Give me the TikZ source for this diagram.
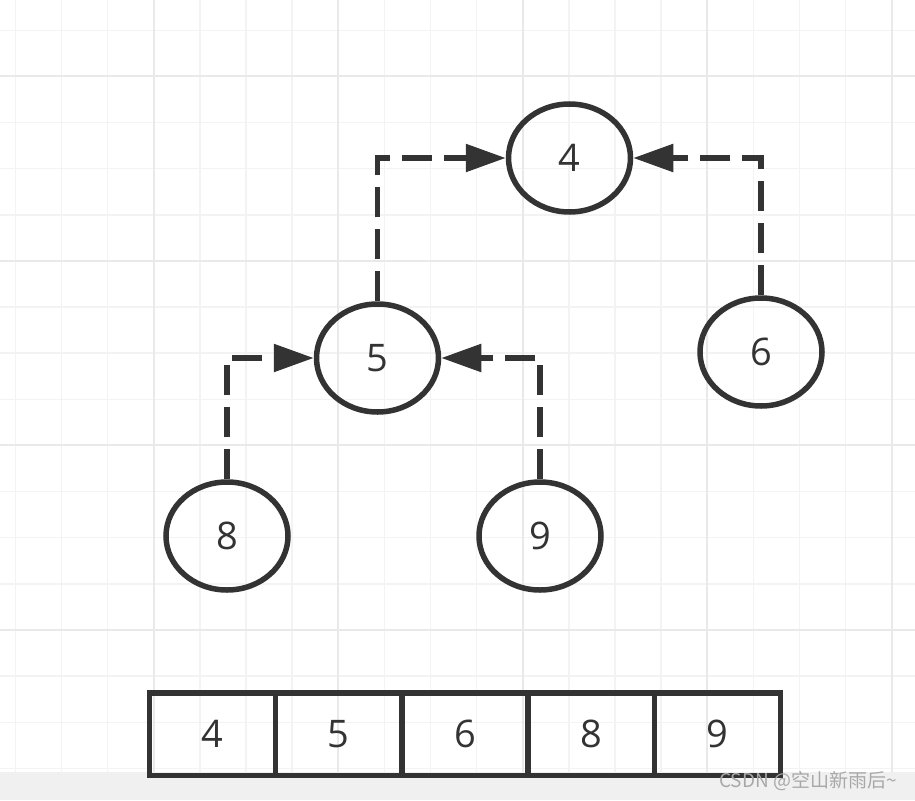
\documentclass[tikz,border=0pt]{standalone}
\usepackage{fontspec}
\setmainfont{Open Sans}
\newfontfamily\cjk{Noto Sans CJK SC}
\usetikzlibrary{shapes.geometric,arrows.meta}
\definecolor{ink}{HTML}{333333}
\definecolor{gridminor}{HTML}{F3F3F3}
\definecolor{gridmajor}{HTML}{E9E9E9}
\definecolor{barc}{HTML}{F0F0F0}
\definecolor{wm}{HTML}{A8A8A8}
\tikzset{
  heapnode/.style={ellipse, draw=ink, line width=5.5pt, minimum width=122pt, minimum height=108pt, inner sep=0pt, text=ink, font=\fontsize{38}{40}\selectfont},
  cellbox/.style={rectangle, draw=ink, line width=5.5pt, minimum width=126.2pt, minimum height=82.5pt, inner sep=0pt, text=ink, font=\fontsize{38}{40}\selectfont},
  link/.style={draw=ink, line width=5.5pt, dash pattern=on 30pt off 12pt, -{Triangle[length=40pt,width=27pt]}},
  gminor/.style={draw=gridminor, line width=1.5pt},
  gmajor/.style={draw=gridmajor, line width=2pt}
}
\begin{document}
\begin{tikzpicture}[x=1pt,y=-1pt]
\useasboundingbox (0,0) rectangle (915,800);
\fill[white] (0,0) rectangle (915,800);
\foreach \i in {0,...,19} {\pgfmathsetmacro\xx{15.3+46.13*\i} \draw[gminor] (\xx,0) -- (\xx,772);}
\foreach \i in {0,...,16} {\pgfmathsetmacro\yy{30.3+46.13*\i} \draw[gminor] (0,\yy) -- (915,\yy);}
\foreach \xx in {153.7,338.2,522.7,707.2,891.7} {\draw[gmajor] (\xx,0) -- (\xx,772);}
\foreach \yy in {76.3,260.8,445.3,629.8} {\draw[gmajor] (0,\yy) -- (915,\yy);}
\fill[barc] (0,772) rectangle (915,800);

\node[heapnode] (n4) at (569.5,158) {4};
\node[heapnode] (n5) at (377.5,358) {5};
\node[heapnode] (n6) at (761,352) {6};
\node[heapnode] (n8) at (227,536) {8};
\node[heapnode] (n9) at (540,536) {9};

\draw[link] (n5.north) |- (n4.west);
\draw[link] (n6.north) |- (n4.east);
\draw[link] (n8.north) |- (n5.west);
\draw[link] (n9.north) |- (n5.east);

\node[cellbox] (c1) at (212.6,734) {4};
\node[cellbox] (c2) at (338.8,734) {5};
\node[cellbox] (c3) at (465,734) {6};
\node[cellbox] (c4) at (591.2,734) {8};
\node[cellbox] (c5) at (717.4,734) {9};

\node[text=wm, font=\cjk\fontsize{19}{20}\selectfont] (wmk) at (808,781) {CSDN @空山新雨后\textasciitilde};
\end{tikzpicture}
\end{document}
